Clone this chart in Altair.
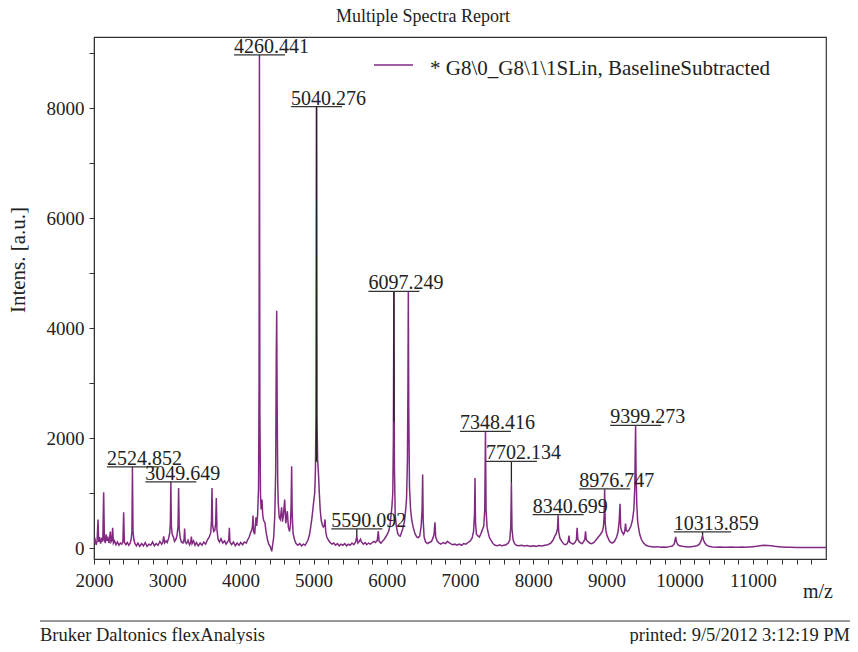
import altair as alt
import pandas as pd

# ---------------- data ----------------
# spectrum vertices (m/z, intensity) by region
spectrum_2000_3000 = [
    (2000, 90), (2015, 150), (2030, 60), (2042, 120), (2055, 518), (2065, 110), (2078, 200),
    (2090, 80), (2105, 160), (2120, 120), (2132, 1015), (2142, 150), (2155, 90), (2166, 250),
    (2178, 130), (2190, 180), (2205, 90), (2223, 300), (2232, 110), (2245, 140), (2255, 370),
    (2265, 90), (2280, 130), (2300, 60), (2320, 110), (2340, 50), (2360, 90), (2380, 70),
    (2395, 120), (2405, 650), (2415, 100), (2435, 60), (2455, 100), (2475, 50), (2495, 90),
    (2510, 180), (2518, 300), (2525, 1458), (2533, 300), (2545, 150), (2560, 80), (2580, 40),
    (2600, 90), (2625, 30), (2650, 80), (2675, 40), (2700, 100), (2725, 30), (2750, 70),
    (2775, 50), (2800, 110), (2825, 40), (2850, 80), (2875, 50), (2900, 120), (2925, 70),
    (2940, 110), (2952, 210), (2965, 90), (2985, 130),
]
spectrum_3000_4000 = [
    (3000, 100), (3020, 180), (3035, 280), (3043, 450), (3050, 1185), (3057, 400), (3068, 250),
    (3085, 200), (3100, 120), (3120, 160), (3135, 240), (3148, 400), (3156, 1094), (3164, 350),
    (3178, 180), (3195, 110), (3215, 90), (3230, 150), (3238, 355), (3246, 110), (3265, 80),
    (3285, 140), (3305, 60), (3320, 100), (3330, 210), (3340, 80), (3360, 130), (3380, 50),
    (3400, 100), (3425, 40), (3450, 90), (3475, 50), (3500, 110), (3525, 70), (3550, 150),
    (3575, 200), (3595, 280), (3605, 500), (3612, 1094), (3620, 420), (3635, 300), (3650, 320),
    (3662, 450), (3671, 912), (3680, 330), (3695, 160), (3715, 110), (3735, 170), (3760, 90),
    (3785, 130), (3805, 70), (3830, 120), (3841, 150), (3849, 367), (3857, 110), (3880, 60),
    (3905, 110), (3930, 40), (3955, 90), (3980, 50),
]
spectrum_4000_5000 = [
    (4005, 100), (4030, 60), (4055, 110), (4080, 90), (4100, 150), (4120, 200), (4140, 280),
    (4155, 330), (4165, 400), (4172, 590), (4180, 300), (4195, 250), (4205, 420), (4213, 560),
    (4222, 400), (4235, 600), (4248, 1100), (4255, 3000), (4260, 8936), (4266, 2500),
    (4274, 1000), (4283, 700), (4295, 880), (4305, 600), (4318, 500), (4335, 460), (4350, 300),
    (4370, 150), (4390, 60), (4410, 20), (4428, -60), (4440, 50), (4455, 200), (4470, 600),
    (4482, 1400), (4490, 3500), (4496, 4318), (4502, 2600), (4510, 1200), (4517, 830),
    (4530, 560), (4545, 520), (4563, 740), (4575, 480), (4588, 600), (4605, 880), (4620, 450),
    (4641, 670), (4655, 380), (4672, 300), (4685, 450), (4693, 800), (4700, 1488), (4708, 600),
    (4720, 260), (4740, 150), (4760, 80), (4785, 50), (4810, 80), (4835, 40), (4860, 70),
    (4885, 50), (4905, 100), (4925, 150), (4945, 250), (4960, 380), (4975, 520), (4990, 700),
]
spectrum_5000_6000 = [
    (5000, 830), (5015, 1000), (5025, 1400), (5033, 2500), (5040, 8033), (5046, 2400),
    (5055, 1600), (5065, 1400), (5078, 1000), (5090, 700), (5105, 500), (5120, 420), (5133, 380),
    (5145, 400), (5156, 520), (5165, 300), (5180, 200), (5200, 150), (5225, 100), (5250, 70),
    (5275, 90), (5300, 50), (5325, 80), (5350, 40), (5375, 70), (5400, 50), (5425, 80),
    (5450, 40), (5475, 70), (5500, 50), (5525, 90), (5550, 60), (5575, 110), (5590, 215),
    (5605, 90), (5625, 120), (5640, 160), (5655, 110), (5680, 70), (5705, 100), (5725, 60),
    (5750, 90), (5775, 70), (5800, 100), (5825, 120), (5845, 100), (5870, 140), (5884, 306),
    (5895, 120), (5920, 90), (5945, 130), (5965, 160), (5985, 200),
]
spectrum_6000_7000 = [
    (6005, 250), (6025, 300), (6045, 420), (6060, 620), (6070, 750), (6082, 1000), (6090, 2000),
    (6097, 4669), (6104, 1500), (6115, 600), (6130, 396), (6150, 260), (6170, 220), (6185, 215),
    (6200, 280), (6220, 360), (6240, 480), (6255, 650), (6270, 900), (6282, 1600), (6289, 3000),
    (6294, 4660), (6300, 2500), (6310, 1100), (6325, 700), (6340, 518), (6360, 380), (6385, 260),
    (6410, 200), (6430, 190), (6450, 220), (6470, 400), (6482, 700), (6490, 1336), (6497, 500),
    (6510, 200), (6530, 110), (6555, 80), (6580, 100), (6610, 120), (6630, 180), (6645, 250),
    (6658, 470), (6668, 200), (6690, 120), (6715, 90), (6740, 70), (6770, 100), (6800, 80),
    (6830, 120), (6845, 100), (6870, 80), (6900, 60), (6930, 70), (6960, 50), (6990, 70),
]
spectrum_7000_8000 = [
    (7020, 50), (7050, 80), (7080, 70), (7110, 100), (7140, 130), (7165, 180), (7185, 300),
    (7198, 600), (7205, 1276), (7212, 450), (7225, 250), (7245, 220), (7265, 200), (7285, 260),
    (7305, 330), (7325, 400), (7338, 700), (7348, 2124), (7356, 700), (7370, 380), (7385, 280),
    (7400, 200), (7420, 150), (7450, 80), (7480, 50), (7510, 40), (7540, 60), (7570, 40),
    (7600, 50), (7630, 60), (7660, 90), (7680, 150), (7694, 400), (7702, 1185), (7710, 350),
    (7725, 150), (7745, 80), (7770, 50), (7800, 40), (7840, 50), (7880, 35), (7920, 45),
    (7960, 30),
]
spectrum_8000_9000 = [
    (8000, 40), (8040, 30), (8080, 45), (8120, 35), (8160, 50), (8200, 60), (8240, 90),
    (8270, 140), (8295, 215), (8315, 260), (8332, 350), (8340, 590), (8348, 300), (8365, 180),
    (8390, 120), (8420, 70), (8445, 60), (8465, 80), (8480, 130), (8489, 227), (8497, 110),
    (8520, 90), (8545, 70), (8570, 100), (8590, 150), (8600, 367), (8610, 160), (8630, 110),
    (8650, 90), (8670, 80), (8690, 120), (8705, 160), (8715, 306), (8725, 150), (8745, 120),
    (8770, 90), (8800, 80), (8830, 100), (8860, 150), (8890, 200), (8920, 250), (8945, 300),
    (8960, 400), (8970, 600), (8976, 1064), (8984, 450), (8995, 300),
]
spectrum_9000_10000 = [
    (9010, 220), (9030, 160), (9050, 110), (9080, 90), (9110, 120), (9140, 200), (9160, 300),
    (9175, 500), (9186, 803), (9195, 380), (9210, 300), (9235, 250), (9250, 300), (9262, 445),
    (9270, 320), (9290, 300), (9310, 330), (9335, 400), (9355, 500), (9375, 700), (9388, 1100),
    (9394, 1800), (9399, 2215), (9405, 1400), (9415, 800), (9426, 500), (9436, 396), (9455, 250),
    (9480, 150), (9505, 95), (9540, 50), (9580, 30), (9620, 25), (9660, 20), (9700, 25),
    (9740, 15), (9780, 20), (9820, 15), (9860, 25), (9900, 35), (9925, 70), (9940, 150),
    (9947, 203), (9955, 120), (9975, 60),
]
spectrum_10000_12000 = [
    (10000, 40), (10040, 30), (10080, 25), (10120, 20), (10160, 25), (10200, 30), (10240, 40),
    (10270, 70), (10290, 120), (10305, 180), (10313, 230), (10325, 150), (10345, 90),
    (10370, 50), (10400, 30), (10450, 20), (10500, 15), (10550, 20), (10600, 15), (10650, 15),
    (10700, 20), (10750, 15), (10800, 15), (10850, 20), (10900, 15), (10950, 20), (11000, 25),
    (11050, 30), (11100, 40), (11150, 50), (11200, 45), (11250, 40), (11300, 30), (11350, 25),
    (11400, 20), (11450, 15), (11500, 15), (11600, 10), (11700, 10), (11800, 10), (11900, 10),
    (12000, 10),
]

# labelled peaks
peak_labels = ["2524.852", "3049.649", "4260.441", "5040.276", "5590.092", "6097.249",
               "7348.416", "7702.134", "8340.699", "8976.747", "9399.273", "10313.859"]
peak_mz = [2524.852, 3049.649, 4260.441, 5040.276, 5590.092, 6097.249,
           7348.416, 7702.134, 8340.699, 8976.747, 9399.273, 10313.859]
label_level = [1476, 1204, 8973, 8033, 349, 4669, 2124, 1578, 609, 1076, 2233, 295]
connector_end = [1458, 1185, 8936, 1570, 215, 2300, 2110, 1185, 590, 1064, 2215, 230]

x_tick_values = list(range(2000, 12000, 200))
y_tick_values = list(range(0, 10000, 1000))

title_text = "Multiple Spectra Report"
legend_text = "* G8\\0_G8\\1\\1SLin, BaselineSubtracted"
y_title = "Intens. [a.u.]"
x_title = "m/z"
footer_left = "Bruker Daltonics flexAnalysis"
footer_right = "printed: 9/5/2012 3:12:19 PM"

# ---------------- styling ----------------
SERIF = "Liberation Serif"
PURPLE = "#812a82"
INK = "#222222"
W, H = 732, 522

spectrum = pd.DataFrame(
    spectrum_2000_3000 + spectrum_3000_4000 + spectrum_4000_5000 + spectrum_5000_6000
    + spectrum_6000_7000 + spectrum_7000_8000 + spectrum_8000_9000 + spectrum_9000_10000
    + spectrum_10000_12000,
    columns=["mz", "intensity"],
)

# underline half-length in m/z units (about 25.5 px for 4-digit labels, 28.7 px for 5-digit)
mz_per_px = 10000 / W
half = [(28.7 if len(l.split(".")[0]) == 5 else 25.5) * mz_per_px for l in peak_labels]
labels = pd.DataFrame({
    "label": peak_labels,
    "mz": peak_mz,
    "level": label_level,
    "end": connector_end,
    "u_start": [m - h for m, h in zip(peak_mz, half)],
    "u_end": [m + h for m, h in zip(peak_mz, half)],
})

xs = alt.Scale(domain=[2000, 12000], nice=False, zero=False)
ys = alt.Scale(domain=[-200, 9300], nice=False, zero=False)

x_axis = alt.Axis(
    values=x_tick_values,
    labelExpr="datum.value % 1000 == 0 ? format(datum.value, 'd') : ''",
    title=None, grid=False, tickSize=5, labelPadding=7,
    labelFont=SERIF, labelFontSize=19, labelColor=INK,
    domainColor="#333333", tickColor="#333333", labelOverlap=False, labelFlush=False,
)
y_axis = alt.Axis(
    values=y_tick_values,
    labelExpr="datum.value % 2000 == 0 ? format(datum.value, 'd') : ''",
    title=None, grid=False, tickSize=5, labelPadding=5,
    labelFont=SERIF, labelFontSize=19, labelColor=INK,
    domainColor="#333333", tickColor="#333333", labelOverlap=False, labelFlush=False,
)

line = alt.Chart(spectrum).mark_line(color=PURPLE, strokeWidth=1.5, clip=True).encode(
    x=alt.X("mz:Q", scale=xs, axis=x_axis),
    y=alt.Y("intensity:Q", scale=ys, axis=y_axis),
)

connectors = alt.Chart(labels).mark_rule(color=INK, strokeWidth=1.3).encode(
    x=alt.X("mz:Q", scale=xs, axis=x_axis),
    y=alt.Y("level:Q", scale=ys, axis=y_axis),
    y2="end:Q",
)
underlines = alt.Chart(labels).mark_rule(color="#333333", strokeWidth=1.2).encode(
    x=alt.X("u_start:Q", scale=xs, axis=x_axis),
    x2="u_end:Q",
    y=alt.Y("level:Q", scale=ys, axis=y_axis),
)
label_text = alt.Chart(labels).mark_text(
    align="left", baseline="alphabetic", dy=-2, font=SERIF, fontSize=20, color=INK
).encode(
    x=alt.X("u_start:Q", scale=xs, axis=x_axis),
    y=alt.Y("level:Q", scale=ys, axis=y_axis),
    text="label:N",
)


def ptext(txt, x, y, size, align="left", angle=0, baseline="alphabetic"):
    return alt.Chart(pd.DataFrame({"t": [txt]})).mark_text(
        align=align, baseline=baseline, font=SERIF, fontSize=size, color=INK, angle=angle
    ).encode(x=alt.value(x), y=alt.value(y), text="t:N")


legend_line = alt.Chart(pd.DataFrame({"k": [0]})).mark_rule(color=PURPLE, strokeWidth=1.3).encode(
    x=alt.value(280), x2=alt.value(319), y=alt.value(28)
)
footer_line = alt.Chart(pd.DataFrame({"k": [0]})).mark_rule(color="#333333", strokeWidth=1.2).encode(
    x=alt.value(-54), x2=alt.value(761), y=alt.value(584)
)

chart = alt.layer(
    line, connectors, underlines, label_text,
    legend_line, ptext(legend_text, 336, 38, 21),
    ptext(title_text, 329, -15, 18, align="center"),
    ptext(y_title, -75, 223, 21, align="center", angle=270, baseline="middle"),
    ptext(x_title, 724, 561, 20, align="center"),
    footer_line,
    ptext(footer_left, -54, 604, 18.5),
    ptext(footer_right, 756, 604, 18.5, align="right"),
).properties(
    width=W, height=H,
    padding={"left": 86, "top": 29, "right": 24, "bottom": 85},
    autosize=alt.AutoSizeParams(type="none"),
    background="white",
).configure_view(stroke="#333333", strokeWidth=1.2)

chart.save("out.html", embed_options={"renderer": "svg", "actions": False})
